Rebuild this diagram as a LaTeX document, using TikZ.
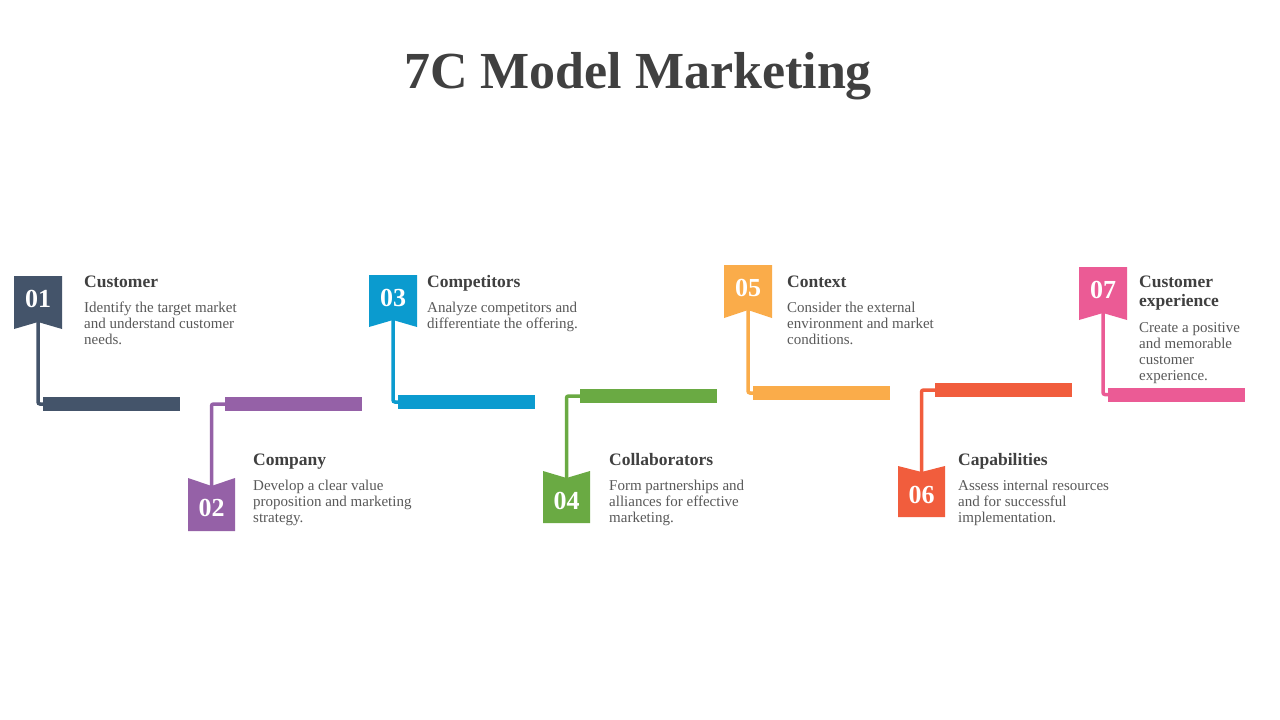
\documentclass[tikz,border=0pt]{standalone}
\usepackage{fontspec}
\setmainfont{Liberation Serif}
\usetikzlibrary{positioning}
\definecolor{SlateStep}{HTML}{44546A}
\definecolor{PlumStep}{HTML}{9561A7}
\definecolor{SkyStep}{HTML}{0B9BCF}
\definecolor{LeafStep}{HTML}{6AAA43}
\definecolor{AmberStep}{HTML}{FAAC4A}
\definecolor{CoralStep}{HTML}{F15D3D}
\definecolor{RoseStep}{HTML}{EB5B95}
\definecolor{HeadGray}{HTML}{404040}
\definecolor{BodyGray}{HTML}{595959}
\tikzset{
	heading/.style = {anchor=base west, inner sep=0, align=left, text=HeadGray, font=\bfseries\fontsize{17.5}{19}\selectfont},
	blurb/.style = {anchor=base west, inner sep=0, align=left, text=BodyGray, font=\fontsize{15}{16}\selectfont},
	num/.style = {inner sep=0, text=white, font=\bfseries\fontsize{26}{26}\selectfont},
	bar/.style = {anchor=west, inner sep=0, minimum width=137pt, minimum height=14pt},
	link/.style = {line width=3.5pt, rounded corners=2pt}
}

\begin{document}
\begin{tikzpicture}[x=1pt, y=-1pt]
		% The page
		\fill [white] (0, 0) rectangle (1280, 720);
		\node [anchor=base, inner sep=0, text=HeadGray, font=\bfseries\fontsize{52}{52}\selectfont] (title) at (638, 88) {7C Model Marketing};
		% Step 01: Customer [the texts sit on the baseline of their last line]
		\node [bar, fill=SlateStep] (bar1) at (43, 404) {};
		\coordinate (tip1) at (38, 322);
		\draw [link, SlateStep] (tip1) |- (bar1.west);
		\fill [SlateStep] (14, 276) -- (62, 276) -- (62, 329) -- (tip1) -- (14, 329) -- cycle;
		\node [num] (num1) at (38, 299) {01};
		\node [heading] (head1) at (84, 287) {Customer};
		\node [blurb] (text1) at (84, 344) {Identify the target market\\and understand customer\\needs.};
		% Step 02: Company
		\node [bar, fill=PlumStep] (bar2) at (225, 404) {};
		\coordinate (tip2) at (211.5, 486);
		\draw [link, PlumStep] (tip2) |- (bar2.west);
		\fill [PlumStep] (188, 478) -- (tip2) -- (235, 478) -- (235, 531) -- (188, 531) -- cycle;
		\node [num] (num2) at (211.5, 508) {02};
		\node [heading] (head2) at (253, 465) {Company};
		\node [blurb] (text2) at (253, 522) {Develop a clear value\\proposition and marketing\\strategy.};
		% Step 03: Competitors
		\node [bar, fill=SkyStep] (bar3) at (398, 402) {};
		\coordinate (tip3) at (393, 320);
		\draw [link, SkyStep] (tip3) |- (bar3.west);
		\fill [SkyStep] (369, 275) -- (417, 275) -- (417, 327) -- (tip3) -- (369, 327) -- cycle;
		\node [num] (num3) at (393, 297.5) {03};
		\node [heading] (head3) at (427, 287) {Competitors};
		\node [blurb] (text3) at (427, 328) {Analyze competitors and\\differentiate the offering.};
		% Step 04: Collaborators
		\node [bar, fill=LeafStep] (bar4) at (580, 396) {};
		\coordinate (tip4) at (566.5, 478);
		\draw [link, LeafStep] (tip4) |- (bar4.west);
		\fill [LeafStep] (543, 471) -- (tip4) -- (590, 471) -- (590, 523) -- (543, 523) -- cycle;
		\node [num] (num4) at (566.5, 500.5) {04};
		\node [heading] (head4) at (609, 465) {Collaborators};
		\node [blurb] (text4) at (609, 522) {Form partnerships and\\alliances for effective\\marketing.};
		% Step 05: Context
		\node [bar, fill=AmberStep] (bar5) at (753, 393) {};
		\coordinate (tip5) at (748, 310);
		\draw [link, AmberStep] (tip5) |- (bar5.west);
		\fill [AmberStep] (724, 265) -- (772, 265) -- (772, 318) -- (tip5) -- (724, 318) -- cycle;
		\node [num] (num5) at (748, 288) {05};
		\node [heading] (head5) at (787, 287) {Context};
		\node [blurb] (text5) at (787, 344) {Consider the external\\environment and market\\conditions.};
		% Step 06: Capabilities
		\node [bar, fill=CoralStep] (bar6) at (935, 390) {};
		\coordinate (tip6) at (921.5, 472);
		\draw [link, CoralStep] (tip6) |- (bar6.west);
		\fill [CoralStep] (898, 466) -- (tip6) -- (945, 466) -- (945, 517) -- (898, 517) -- cycle;
		\node [num] (num6) at (921.5, 494.5) {06};
		\node [heading] (head6) at (958, 465) {Capabilities};
		\node [blurb] (text6) at (958, 522) {Assess internal resources\\and for successful\\implementation.};
		% Step 07: Customer experience
		\node [bar, fill=RoseStep] (bar7) at (1108, 394.5) {};
		\coordinate (tip7) at (1103, 313);
		\draw [link, RoseStep] (tip7) |- (bar7.west);
		\fill [RoseStep] (1079, 267) -- (1127, 267) -- (1127, 320) -- (tip7) -- (1079, 320) -- cycle;
		\node [num] (num7) at (1103, 290) {07};
		\node [heading] (head7) at (1139, 306) {Customer\\experience};
		\node [blurb] (text7) at (1139, 380) {Create a positive\\and memorable\\customer\\experience.};
	\end{tikzpicture}
\end{document}
